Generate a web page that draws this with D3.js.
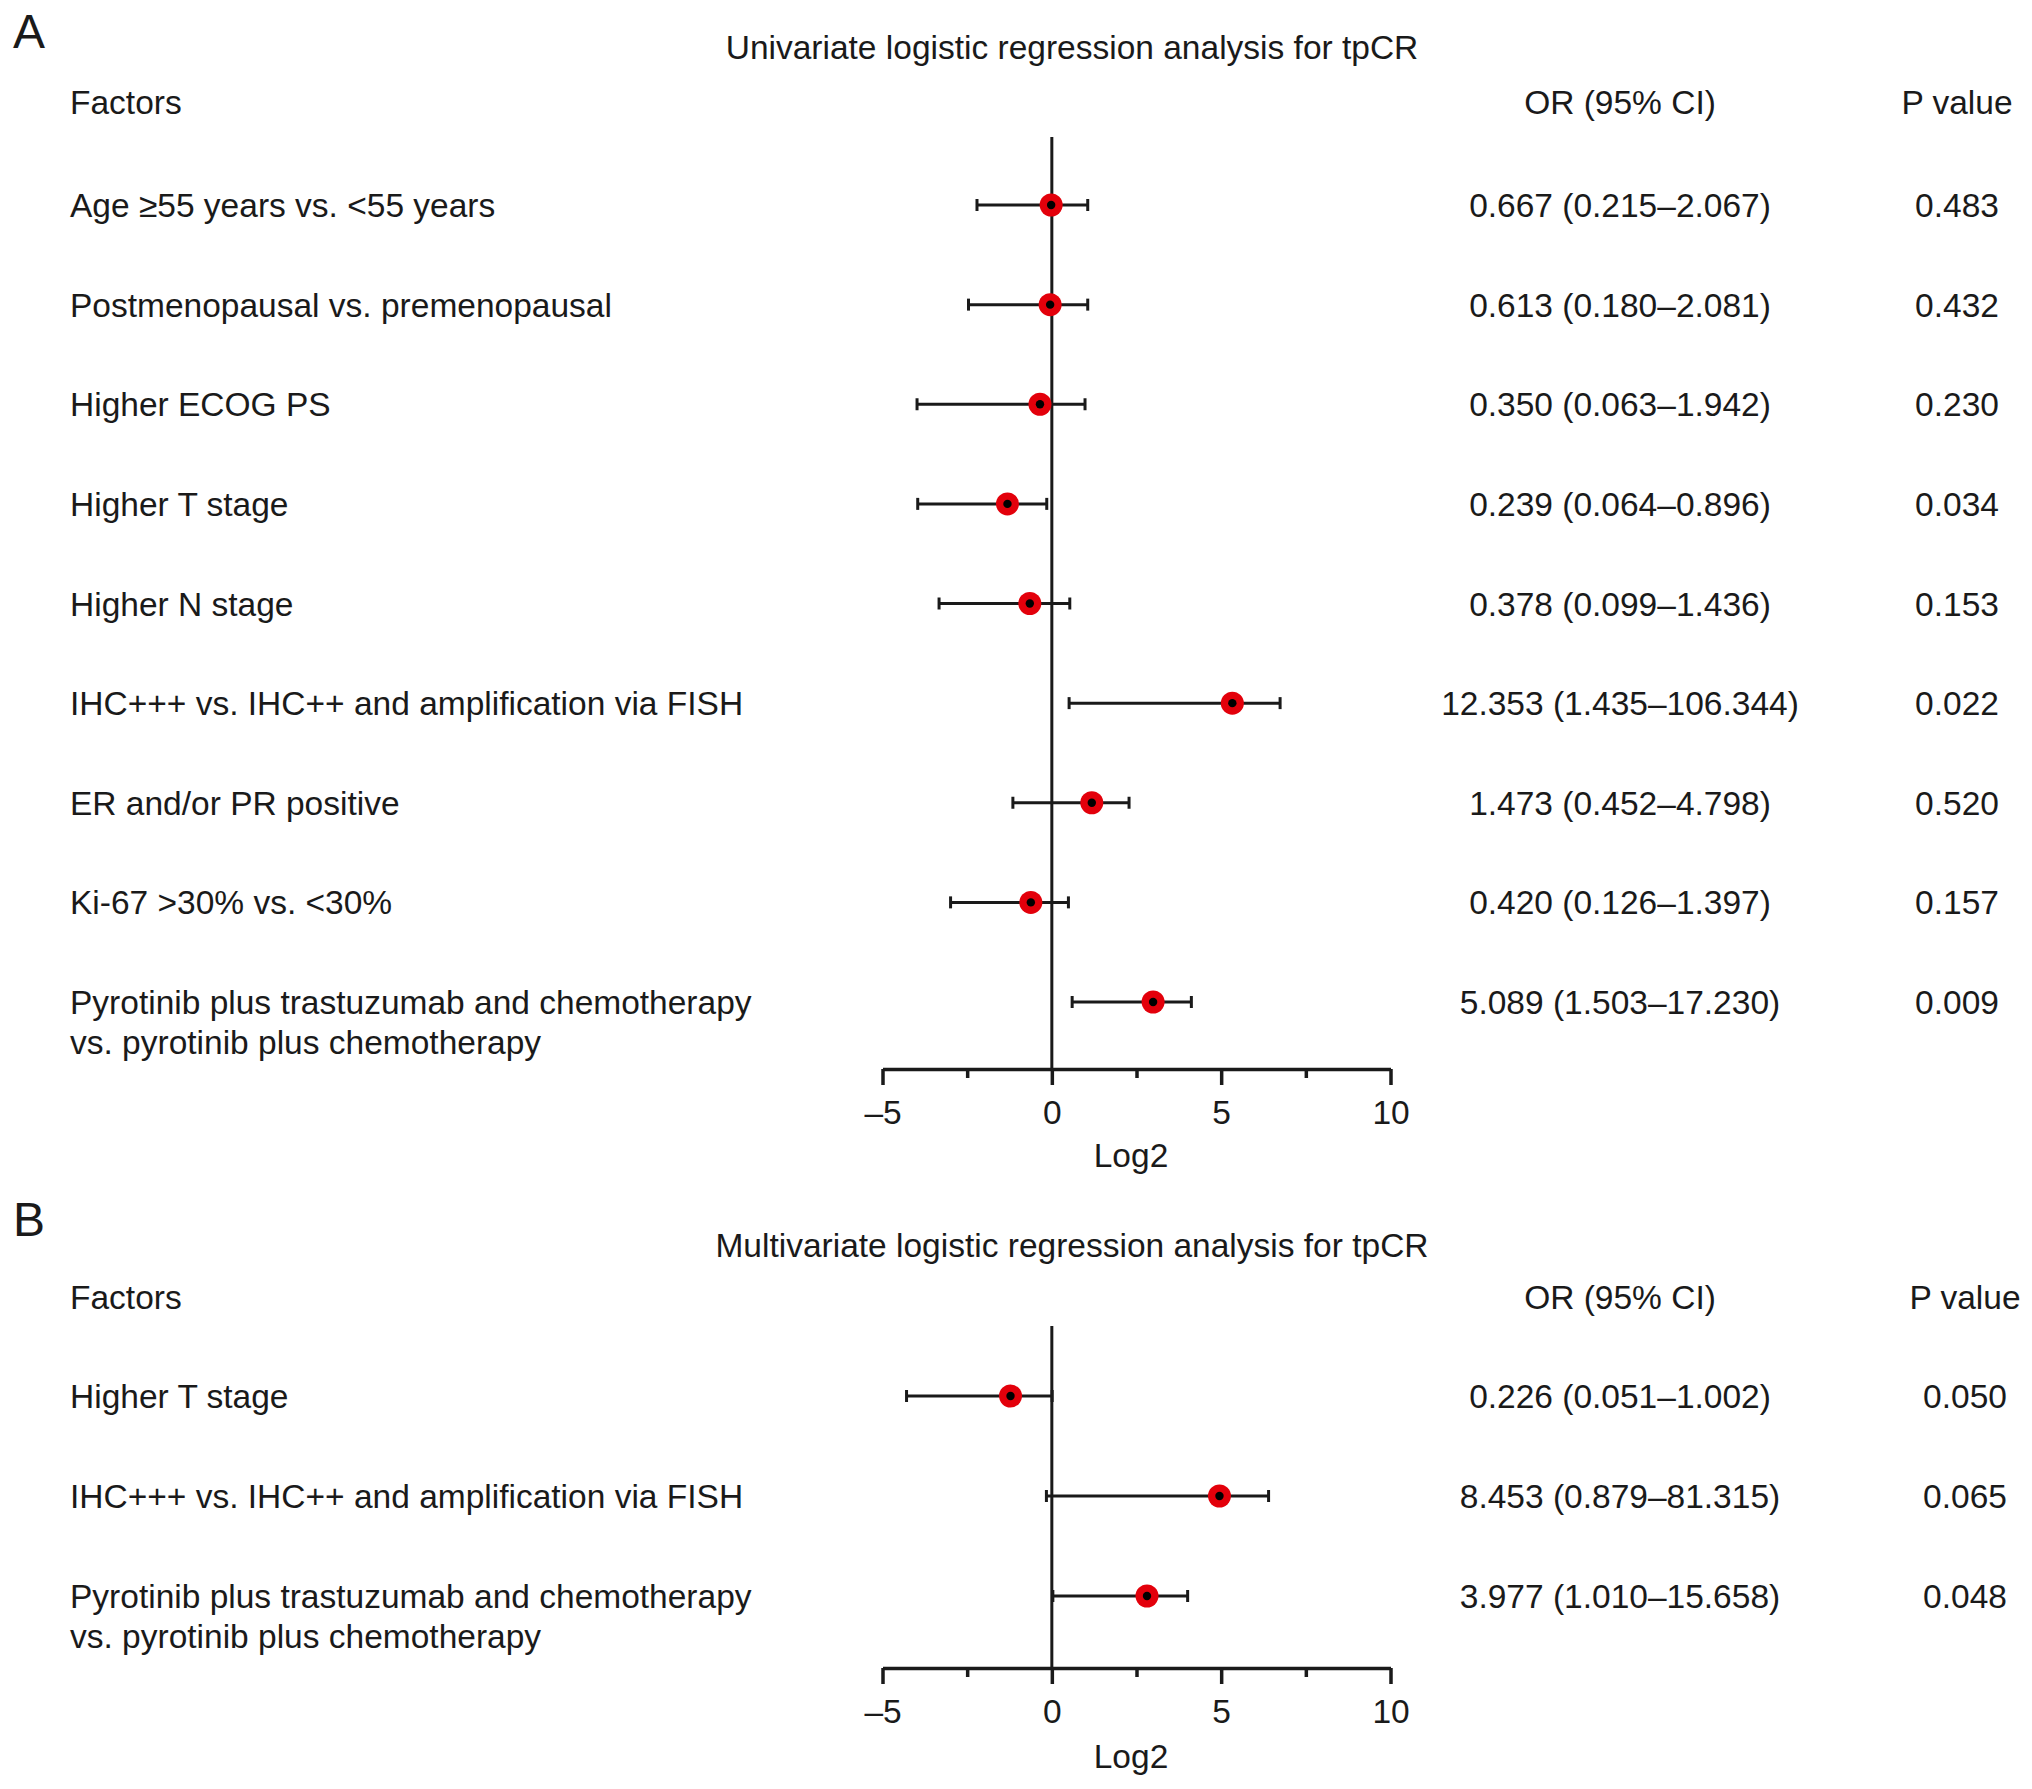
<!DOCTYPE html>
<html>
<head>
<meta charset="utf-8">
<script src="https://cdn.jsdelivr.net/npm/d3@7"></script>
<style>
  html, body { margin: 0; padding: 0; background: #fff; }
  svg { display: block; }
  text { font-family: "Liberation Sans", Arial, Helvetica, sans-serif; fill: #1a1a1a; }
</style>
</head>
<body>
<svg id="chart" width="2032" height="1789"></svg>
<script>
// ---------- DATA ----------
const uniFactors = [
  ["Age \u226555 years vs. <55 years"],
  ["Postmenopausal vs. premenopausal"],
  ["Higher ECOG PS"],
  ["Higher T stage"],
  ["Higher N stage"],
  ["IHC+++ vs. IHC++ and amplification via FISH"],
  ["ER and/or PR positive"],
  ["Ki-67 >30% vs. <30%"],
  ["Pyrotinib plus trastuzumab and chemotherapy", "vs. pyrotinib plus chemotherapy"]
];
const uniPoint = [-0.02, -0.05, -0.35, -1.31, -0.65, 5.33, 1.18, -0.62, 2.99];
const uniLow   = [-2.21, -2.46, -3.98, -3.96, -3.33, 0.51, -1.15, -2.99, 0.60];
const uniHigh  = [1.06, 1.06, 0.98, -0.15, 0.53, 6.74, 2.28, 0.49, 4.12];
const uniOR = [
  "0.667 (0.215\u20132.067)",
  "0.613 (0.180\u20132.081)",
  "0.350 (0.063\u20131.942)",
  "0.239 (0.064\u20130.896)",
  "0.378 (0.099\u20131.436)",
  "12.353 (1.435\u2013106.344)",
  "1.473 (0.452\u20134.798)",
  "0.420 (0.126\u20131.397)",
  "5.089 (1.503\u201317.230)"
];
const uniP = ["0.483", "0.432", "0.230", "0.034", "0.153", "0.022", "0.520", "0.157", "0.009"];

const multiFactors = [
  ["Higher T stage"],
  ["IHC+++ vs. IHC++ and amplification via FISH"],
  ["Pyrotinib plus trastuzumab and chemotherapy", "vs. pyrotinib plus chemotherapy"]
];
const multiPoint = [-1.22, 4.95, 2.81];
const multiLow   = [-4.29, -0.16, 0.03];
const multiHigh  = [0.01, 6.40, 4.01];
const multiOR = [
  "0.226 (0.051\u20131.002)",
  "8.453 (0.879\u201381.315)",
  "3.977 (1.010\u201315.658)"
];
const multiP = ["0.050", "0.065", "0.048"];

const majorTicks = [-5, 0, 5, 10];
const minorTicks = [-2.5, 2.5, 7.5];
const xDomain = [-5, 10];

// ---------- DRAW ----------
const svg = d3.select("#chart");
const FS = 33.5;
const ink = "#1a1a1a";
const red = "#e3000b";

const x = d3.scaleLinear().domain(xDomain).range([882.5, 1390.5]);

function panel(cfg) {
  const g = svg.append("g");
  const idx = cfg.factors.map((d, i) => i);
  const y = d3.scalePoint().domain(idx).range(cfg.rowRange);

  // panel letter
  g.append("text").attr("x", 13).attr("y", cfg.letterY)
    .style("font-size", "48px").text(cfg.letter);
  // title
  g.append("text").attr("x", 1072).attr("y", cfg.titleY)
    .attr("text-anchor", "middle").style("font-size", FS + "px").text(cfg.title);
  // headers
  g.append("text").attr("x", 70).attr("y", cfg.headY)
    .style("font-size", FS + "px").text("Factors");
  g.append("text").attr("x", 1620).attr("y", cfg.headY)
    .attr("text-anchor", "middle").style("font-size", FS + "px").text("OR (95% CI)");
  g.append("text").attr("x", cfg.pX).attr("y", cfg.headY)
    .attr("text-anchor", "middle").style("font-size", FS + "px").text("P value");

  // factor labels
  const lab = g.selectAll("text.factor").data(idx).join("text")
    .attr("class", "factor")
    .attr("x", 70).attr("y", i => y(i) + 12)
    .style("font-size", FS + "px");
  lab.each(function (i) {
    const t = d3.select(this);
    cfg.factors[i].forEach((line, k) => {
      t.append("tspan").attr("x", 70).attr("dy", k === 0 ? 0 : 40).text(line);
    });
  });

  // OR text & P values
  g.selectAll("text.or").data(idx).join("text")
    .attr("class", "or").attr("x", 1620).attr("y", i => y(i) + 12)
    .attr("text-anchor", "middle").style("font-size", FS + "px")
    .text(i => cfg.or[i]);
  g.selectAll("text.pv").data(idx).join("text")
    .attr("class", "pv").attr("x", cfg.pX).attr("y", i => y(i) + 12)
    .attr("text-anchor", "middle").style("font-size", FS + "px")
    .text(i => cfg.p[i]);

  // zero line
  g.append("line")
    .attr("x1", x(0)).attr("x2", x(0))
    .attr("y1", cfg.zeroTop).attr("y2", cfg.axisY)
    .attr("stroke", ink).attr("stroke-width", 3);

  // whiskers
  const cap = 6;
  const wg = g.append("g").attr("stroke", ink).attr("stroke-width", 3);
  wg.selectAll("line.ci").data(idx).join("line")
    .attr("class", "ci")
    .attr("x1", i => x(cfg.low[i])).attr("x2", i => x(cfg.high[i]))
    .attr("y1", i => y(i)).attr("y2", i => y(i));
  wg.selectAll("line.capL").data(idx).join("line")
    .attr("class", "capL")
    .attr("x1", i => x(cfg.low[i])).attr("x2", i => x(cfg.low[i]))
    .attr("y1", i => y(i) - cap).attr("y2", i => y(i) + cap);
  wg.selectAll("line.capR").data(idx).join("line")
    .attr("class", "capR")
    .attr("x1", i => x(cfg.high[i])).attr("x2", i => x(cfg.high[i]))
    .attr("y1", i => y(i) - cap).attr("y2", i => y(i) + cap);

  // points
  g.selectAll("circle.outer").data(idx).join("circle")
    .attr("class", "outer")
    .attr("cx", i => x(cfg.point[i])).attr("cy", i => y(i))
    .attr("r", 11.5).attr("fill", red);
  g.selectAll("circle.inner").data(idx).join("circle")
    .attr("class", "inner")
    .attr("cx", i => x(cfg.point[i])).attr("cy", i => y(i))
    .attr("r", 4.2).attr("fill", "#000");

  // axis
  const ax = g.append("g").attr("transform", `translate(0,${cfg.axisY})`)
    .call(d3.axisBottom(x).tickValues(majorTicks).tickSize(16).tickSizeOuter(0)
      .tickPadding(15).tickFormat(d => d < 0 ? "\u2013" + Math.abs(d) : String(d)));
  ax.select(".domain").attr("stroke", ink).attr("stroke-width", 3.5);
  ax.selectAll(".tick line").attr("stroke", ink).attr("stroke-width", 3.5);
  ax.selectAll(".tick text").style("font-size", FS + "px")
    .style("font-family", '"Liberation Sans", Arial, sans-serif').attr("fill", ink);

  const mx = g.append("g").attr("transform", `translate(0,${cfg.axisY})`)
    .call(d3.axisBottom(x).tickValues(minorTicks).tickSize(9).tickSizeOuter(0).tickFormat(""));
  mx.select(".domain").remove();
  mx.selectAll(".tick line").attr("stroke", ink).attr("stroke-width", 3.5);

  g.append("text").attr("x", 1131).attr("y", cfg.logY)
    .attr("text-anchor", "middle").style("font-size", FS + "px").text("Log2");
}

panel({
  letter: "A", letterY: 48,
  title: "Univariate logistic regression analysis for tpCR", titleY: 59,
  headY: 114, pX: 1957,
  factors: uniFactors, point: uniPoint, low: uniLow, high: uniHigh,
  or: uniOR, p: uniP,
  rowRange: [205, 1002], zeroTop: 137, axisY: 1069, logY: 1167
});

panel({
  letter: "B", letterY: 1236,
  title: "Multivariate logistic regression analysis for tpCR", titleY: 1257,
  headY: 1309, pX: 1965,
  factors: multiFactors, point: multiPoint, low: multiLow, high: multiHigh,
  or: multiOR, p: multiP,
  rowRange: [1396, 1596], zeroTop: 1326, axisY: 1668, logY: 1768
});
</script>
</body>
</html>
